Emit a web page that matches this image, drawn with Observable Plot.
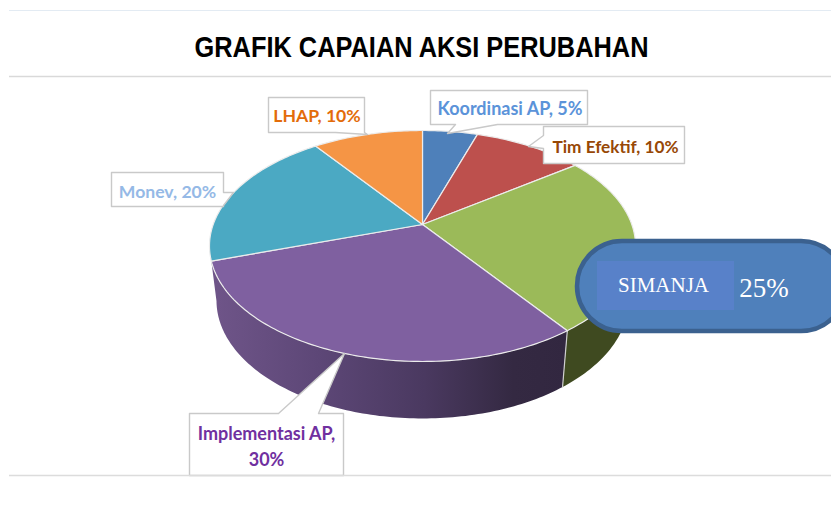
<!DOCTYPE html>
<html>
<head>
<meta charset="utf-8">
<style>html,body{margin:0;padding:0;background:#fff}svg{display:block}</style>
<script src="https://cdn.jsdelivr.net/npm/d3@7"></script>
<script src="https://cdn.jsdelivr.net/npm/@observablehq/plot@0.6"></script>
</head>
<body>
<script>
// ---- data ----
const title = "GRAFIK CAPAIAN AKSI PERUBAHAN";
const categories = ["Koordinasi AP", "Tim Efektif", "SIMANJA", "Implementasi AP", "Monev", "LHAP"];
const percents = [5, 10, 25, 30, 20, 10];

// ---- styles ----
const sliceColors = ["#4e80ba", "#bd504d", "#9bba59", "#7f60a0", "#4ba9c3", "#f59545"];
const labelColors = ["#5b93d9", "#974806", null, "#7030a0", "#95b9e6", "#e36c0a"];

// ---- layout (page pixels) of the perspective pie ----
const W = 831, H = 513;
const pie = {cx: 422, cy: 224, A: 209.3, B: 111.5, k: 0.186, rimCy: 245.5, rimRx: 213, rimRy: 115.5,
             lowCy: 300, lowRx: 206, lowRy: 118};
const callouts = {
  "Koordinasi AP": {tx: 509.5, ty: 106, fs: 18, outline: [[430,90],[587,90],[587,124],[497,124],[447,133],[455,124],[430,124]]},
  "Tim Efektif": {tx: 615, ty: 145, fs: 17.2, outline: [[543,126],[684,126],[684,163],[543,163],[543,148],[528,146],[543,135]]},
  "Implementasi AP": {tx: 266, ty: 444.5, fs: 18, outline: [[189,475],[189,413],[278,413],[344,353],[318,413],[343,413],[343,475]]},
  "Monev": {tx: 167, ty: 189, fs: 17.6, outline: [[111,172],[223,172],[223,192],[233,192],[223,205],[223,206],[111,206]]},
  "LHAP": {tx: 316.5, ty: 113.5, fs: 17.6, outline: [[268,97],[364,97],[364,132],[367,134],[335,132],[268,132]]}
};

// circle angle (deg, clockwise from top) -> point on the top face
function rimPoint(deg) {
  const t = deg * Math.PI / 180, u = Math.sin(t), v = Math.cos(t), w = 1 + pie.k * v;
  return [pie.cx + pie.A * u / w, pie.cy - pie.B * v / w];
}
function lowPoint(deg) {
  const [x, y] = rimPoint(deg);
  return [pie.cx + (x - pie.cx) * pie.lowRx / pie.rimRx, pie.lowCy + (y - pie.rimCy) * pie.lowRy / pie.rimRy];
}
function arc(fn, a, b) {
  const n = Math.max(2, Math.ceil(Math.abs(b - a))), out = [];
  for (let i = 0; i <= n; i++) out.push(fn(a + (b - a) * i / n));
  return out;
}

// cumulative angles from the values
const total = d3.sum(percents);
let acc = 0;
const slices = categories.map((name, i) => {
  const a = acc / total * 360; acc += percents[i];
  return {name, value: percents[i], a, b: acc / total * 360};
});

const faceRows = slices.flatMap(s => {
  const pts = [[pie.cx, pie.cy], ...arc(rimPoint, s.a, s.b), [pie.cx, pie.cy]];
  return pts.map(([x, y]) => ({name: s.name, x, y}));
});

const sim = slices[2], imp = slices[3];
const silhouetteL = 259, silhouetteR = 101;
const wallImp = [...arc(rimPoint, imp.a, imp.b), ...arc(lowPoint, silhouetteL, imp.a)].map(([x, y]) => ({x, y}));
const wallSim = [...arc(rimPoint, silhouetteR, sim.b), ...arc(lowPoint, sim.b, silhouetteR)].map(([x, y]) => ({x, y}));
const wallSeam = [rimPoint(sim.b), lowPoint(sim.b)].map(([x, y]) => ({x, y}));

const defs = () => {
  const d = d3.create("svg:defs");
  const g = d.append("linearGradient").attr("id", "wallImpGrad").attr("gradientUnits", "userSpaceOnUse")
    .attr("x1", 211).attr("x2", 566).attr("y1", 0).attr("y2", 0);
  [[0, "#6f5589"], [0.3, "#5d4777"], [0.6, "#4a3960"], [0.85, "#342942"], [1, "#322740"]]
    .forEach(([o, c]) => g.append("stop").attr("offset", o).attr("stop-color", c));
  return d.node();
};

const labelFont = "Lato, 'Open Sans', sans-serif";
const calloutMarks = categories.filter(c => callouts[c]).flatMap(c => {
  const i = categories.indexOf(c), co = callouts[c];
  const out = [...co.outline, co.outline[0]].map(([x, y]) => ({x, y}));
  const text = c === "Implementasi AP" ? `${c},\n${percents[i]}%` : `${c}, ${percents[i]}%`;
  return [
    Plot.line(out, {x: "x", y: "y", fill: "#fff", stroke: "#c9c9c9", strokeWidth: 1.4, curve: "linear"}),
    Plot.text([text], {x: co.tx, y: co.ty, text: d => d, fill: labelColors[i], fontFamily: labelFont,
      fontWeight: 700, fontSize: co.fs, lineHeight: 1.42})
  ];
});

const chart = Plot.plot({
  width: W, height: H, margin: 0,
  x: {domain: [0, W], range: [0, W], axis: null},
  y: {domain: [0, H], range: [0, H], axis: null},
  color: {domain: categories, range: sliceColors},
  style: {background: "#fff", overflow: "hidden"},
  marks: [
    defs,
    Plot.ruleY([10], {x1: 9, x2: W, stroke: "#e3ebf3", strokeWidth: 1}),
    Plot.ruleY([76], {x1: 9, x2: W, stroke: "#d9d9d9", strokeWidth: 1.5}),
    Plot.text([title], {x: 421, y: 47, text: d => d, fontFamily: "'Liberation Sans', Arial, sans-serif",
      fontWeight: 700, fontSize: 30, fill: "#000", className: "ttl"}),
    Plot.line(wallSim, {x: "x", y: "y", fill: "#3f4a20", stroke: "none", curve: "linear"}),
    Plot.line(wallImp, {x: "x", y: "y", fill: "url(#wallImpGrad)", stroke: "none", curve: "linear"}),
    Plot.line(wallSeam, {x: "x", y: "y", stroke: "#cfcfcf", strokeWidth: 1.2}),
    Plot.line(faceRows, {x: "x", y: "y", z: "name", fill: "name", stroke: "#ececec", strokeWidth: 1.2, curve: "linear"}),
    ...calloutMarks,
    Plot.ruleY([475], {x1: 9, x2: W, stroke: "#dcdcdc", strokeWidth: 1.5}),
    Plot.rect([0], {x1: 577, x2: 846, y1: 241, y2: 331, rx: 45, ry: 45, r: 45, fill: "#4f80bb", stroke: "#3b618f", strokeWidth: 4.5}),
    Plot.rect([0], {x1: 597, x2: 734, y1: 261, y2: 310, fill: "#5881c9"}),
    Plot.text([categories[2]], {x: 663, y: 285, text: d => d, fill: "#fff", fontFamily: "'Liberation Serif', serif", fontSize: 21}),
    Plot.text([`${percents[2]}%`], {x: 763.5, y: 288, text: d => d, fill: "#fff", fontFamily: "'Liberation Serif', serif", fontSize: 27})
  ]
});
// the title is set in a narrowed bold face in the reference
d3.select(chart).selectAll(".ttl text").attr("textLength", 454).attr("lengthAdjust", "spacingAndGlyphs");
document.body.append(chart);
</script>
</body>
</html>
